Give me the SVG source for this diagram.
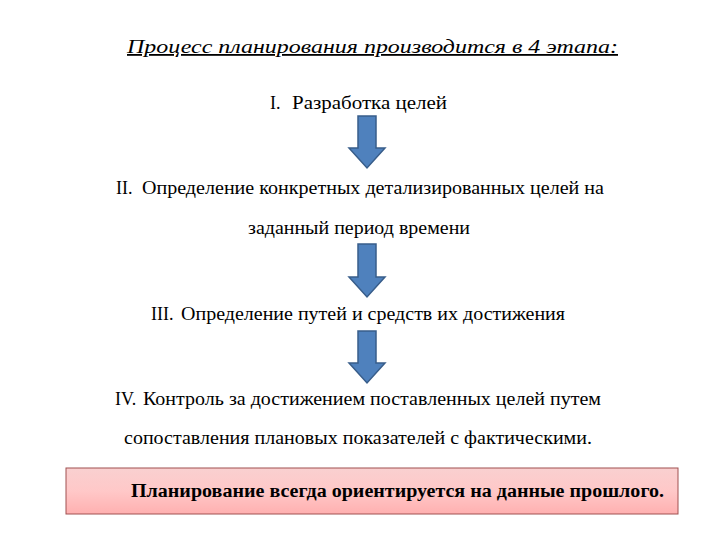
<svg xmlns="http://www.w3.org/2000/svg" width="720" height="540" viewBox="0 0 720 540" font-family="'Liberation Serif', 'DejaVu Serif', serif">
<style>
text{font-family:'Liberation Serif','Times New Roman',serif;font-size:18px;fill:#000}
.arr{fill:#4f81bd;stroke:#385d8a;stroke-width:1.5}
</style>
<defs>
<linearGradient id="pg" x1="0" y1="0" x2="0" y2="1">
<stop offset="0" stop-color="#f9d0d0"/><stop offset="0.5" stop-color="#ffc8c8"/><stop offset="1" stop-color="#ffb0b0"/>
</linearGradient>
</defs>
<rect width="720" height="540" fill="#fff"/>
<text x="127" y="53" font-style="italic" font-size="20" text-decoration="underline" textLength="491" lengthAdjust="spacingAndGlyphs">Процесс планирования производится в 4 этапа:</text>
<g id="n1"><text x="270" y="109">I.</text><text x="292" y="109" textLength="155" lengthAdjust="spacingAndGlyphs">Разработка целей</text></g>
<g id="n2"><text x="116" y="194">II.</text><text x="142" y="194" textLength="462" lengthAdjust="spacingAndGlyphs">Определение конкретных детализированных целей на</text><text x="248" y="234" textLength="222" lengthAdjust="spacingAndGlyphs">заданный период времени</text></g>
<g id="n3"><text x="151" y="320">III.</text><text x="181" y="320" textLength="384" lengthAdjust="spacingAndGlyphs">Определение путей и средств их достижения</text></g>
<g id="n4"><text x="115" y="405">IV.</text><text x="143" y="405" textLength="458" lengthAdjust="spacingAndGlyphs">Контроль за достижением поставленных целей путем</text><text x="124" y="444" textLength="468" lengthAdjust="spacingAndGlyphs">сопоставления плановых показателей с фактическими.</text></g>
<g id="connectors">
<path class="arr" d="M358 116H376V148H385L367 168L349 148H358Z"/>
<path class="arr" d="M358 244H376V277H385L367 297L349 277H358Z"/>
<path class="arr" d="M358 331H376V363H385L367 383L349 363H358Z"/>
</g>
<g id="note">
<rect x="66" y="468" width="612" height="46" fill="url(#pg)" stroke="#a05050" stroke-width="1"/>
<text x="131" y="497" font-weight="bold" font-size="18" textLength="533" lengthAdjust="spacingAndGlyphs">Планирование всегда ориентируется на данные прошлого.</text>
</g>
</svg>
